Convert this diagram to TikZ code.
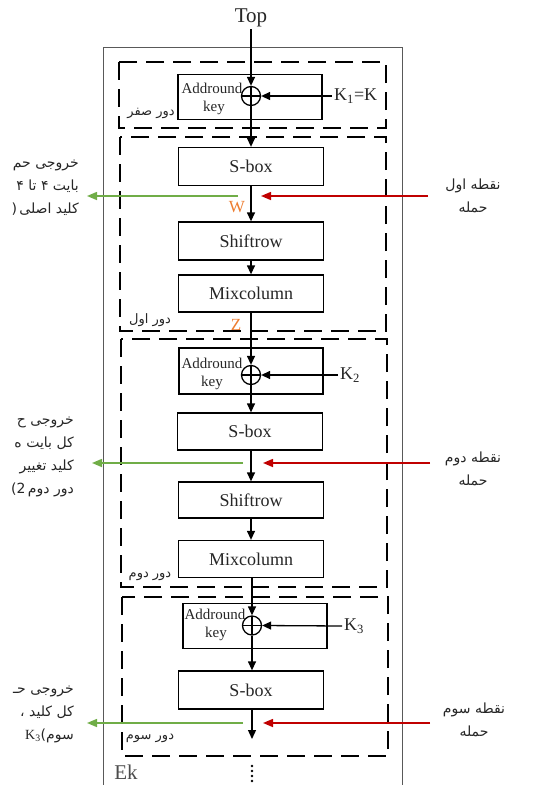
\documentclass[tikz,border=0pt]{standalone}
\usepackage{fontspec}
\setmainfont{Liberation Serif}
\newfontfamily\fa[Script=Arabic]{DejaVu Sans}
\TeXXeTstate=1
\usetikzlibrary{arrows.meta}
\definecolor{agreen}{HTML}{70AD47}
\definecolor{ared}{HTML}{C00000}
\definecolor{aorange}{HTML}{ED7D31}
\definecolor{txt}{HTML}{262626}
\newcommand{\fat}[1]{{\fa\beginR #1\endR}}
\begin{document}
\begin{tikzpicture}[x=1pt,y=-1pt,
  box/.style={draw=black, line width=1.3pt, minimum width=145pt, minimum height=38pt, inner sep=0pt, text=txt, font=\fontsize{18}{20}\selectfont},
  akbox/.style={draw=black, line width=1.3pt, minimum width=144pt, minimum height=45pt, inner sep=0pt},
  aktext/.style={text=txt, inner sep=0pt, font=\fontsize{15}{17}\selectfont},
  xorc/.style={circle, draw=black, line width=1.3pt, minimum size=19pt, inner sep=0pt,
     path picture={\draw[line width=1.3pt] (path picture bounding box.north) -- (path picture bounding box.south)
                   (path picture bounding box.west) -- (path picture bounding box.east);}},
  arr/.style={-{Triangle[length=9pt,width=8pt]}, line width=1.3pt},
  garr/.style={-{Triangle[length=10pt,width=8pt]}, line width=1.5pt, agreen},
  rarr/.style={-{Triangle[length=10pt,width=8pt]}, line width=1.5pt, ared},
  rbox/.style={dash pattern=on 18pt off 9pt, line width=1.6pt},
  klab/.style={text=txt, inner sep=2pt, font=\fontsize{18}{20}\selectfont},
  falab/.style={text=txt, inner sep=0pt, font=\fa\fontsize{13}{15}\selectfont},
  attlab/.style={text=txt, inner sep=0pt, align=center, font=\fa\fontsize{14}{23}\selectfont},
  outlab/.style={text=txt, inner sep=0pt, align=right, anchor=north east, font=\fa\fontsize{14}{23}\selectfont},
  orl/.style={text=aorange, inner sep=0pt, font=\fontsize{17}{19}\selectfont}
]
\useasboundingbox (0,0) rectangle (537,785);

% outer frame
\draw[gray!70!black, line width=1pt] (103,785) -- (103,47) -- (402,47) -- (402,785);

% round frames
\draw[rbox] (119,62) rectangle (386,128);
\draw[rbox] (120,137) rectangle (386,331);
\draw[rbox] (121,339) rectangle (387,587);
\draw[rbox] (122,597) rectangle (388,756);

\node[falab] (r0) at (151,113) {\fat{دور صفر}};
\node[falab] (r1) at (150,320) {\fat{دور اول}};
\node[falab] (r2) at (150,576) {\fat{دور دوم}};
\node[falab] (r3) at (150,738) {\fat{دور سوم}};

% top
\node[text=txt, inner sep=2pt, font=\fontsize{21}{23}\selectfont] (top) at (251,18) {Top};

% round 0
\node[akbox] (ak0) at (250,97) {};
\node[aktext] (ak0a) at (212,88) {Addround};
\node[aktext] (ak0b) at (214,108) {key};
\node[xorc] (x0) at (251,96) {};
\node[klab, anchor=west] (k1) at (332,96) {K\textsubscript{1}=K};

% round 1
\node[box] (sb1) at (251,166.5) {S-box};
\node[box] (sr1) at (251,241) {Shiftrow};
\node[box, minimum height=37pt] (mc1) at (251,293.5) {Mixcolumn};
\node[orl] (w) at (237,207) {W};
\node[orl] (z) at (236,325) {Z};

% round 2
\node[akbox, minimum height=46pt] (ak2) at (251,371) {};
\node[aktext] (ak2a) at (212,363) {Addround};
\node[aktext] (ak2b) at (212,383) {key};
\node[xorc] (x2) at (251,375) {};
\node[klab, anchor=west] (k2) at (338,375) {K\textsubscript{2}};
\node[box, minimum height=37pt] (sb2) at (250,431.5) {S-box};
\node[box, minimum height=36pt] (sr2) at (251,500) {Shiftrow};
\node[box, minimum height=37pt] (mc2) at (251,559) {Mixcolumn};

% round 3
\node[akbox] (ak3) at (255,626) {};
\node[aktext] (ak3a) at (215,614) {Addround};
\node[aktext] (ak3b) at (216,634) {key};
\node[xorc] (x3) at (252,625.5) {};
\node[klab, anchor=west] (k3) at (342,626) {K\textsubscript{3}};
\node[box] (sb3) at (251,690) {S-box};
\coordinate (e3) at (252,739);

% main flow
\draw[arr] (top) -- (x0.north);
\draw[arr] (x0.south) -- (sb1.north -| x0.south);
\draw[arr] (sb1.south) -- (sr1.north);
\draw[arr] (sr1.south) -- (mc1.north);
\draw[arr] (mc1.south) -- (x2.north);
\draw[arr] (x2.south) -- (sb2.north -| x2.south);
\draw[arr] (sb2.south -| sr2.north) -- (sr2.north);
\draw[arr] (sr2.south) -- (mc2.north);
\draw[arr] (mc2.south -| x3.north) -- (x3.north);
\draw[arr] (x3.south) -- (sb3.north -| x3.south);
\draw[arr] (sb3.south -| e3) -- (e3);

% key inputs
\draw[arr] (k1.west) -- (x0.east);
\draw[arr] (k2.west) -- (x2.east);
\draw[arr] (k3.west) -- (x3.east);

% attack points and outputs
\coordinate (g1s) at (238,196); \coordinate (g1e) at (87,196);
\coordinate (r1s) at (428,196); \coordinate (r1e) at (261,196);
\coordinate (g2s) at (243,463); \coordinate (g2e) at (92,463);
\coordinate (r2s) at (430,463); \coordinate (r2e) at (263,463);
\coordinate (g3s) at (243,723); \coordinate (g3e) at (87,723);
\coordinate (r3s) at (430,723); \coordinate (r3e) at (263,723);
\draw[garr] (g1s) -- (g1e);
\draw[rarr] (r1s) -- (r1e);
\draw[garr] (g2s) -- (g2e);
\draw[rarr] (r2s) -- (r2e);
\draw[garr] (g3s) -- (g3e);
\draw[rarr] (r3s) -- (r3e);

\node[attlab] (a1) at (473,196) {\fat{نقطه اول}\\\fat{حمله}};
\node[attlab] (a2) at (473,469) {\fat{نقطه دوم}\\\fat{حمله}};
\node[attlab] (a3) at (474,720) {\fat{نقطه سوم}\\\fat{حمله}};

\node[outlab] (o1) at (79,160) {\fat{خروجی حم}\\\fat{بایت ۴ تا ۴}\\(\,\fat{کلید اصلی}};
\node[outlab] (o2) at (74,417) {\fat{خروجی ح}\\\fat{کل بایت ه}\\\fat{کلید تغییر}\\2)\,\fat{دور دوم}};
\node[outlab] (o3) at (74,686) {\fat{خروجی حـ}\\\fat{کل کلید ،}\\{\fontspec{Liberation Serif}K\textsubscript{3}})\fat{سوم}};

% Ek and continuation dots
\node[text=gray!60!black, inner sep=0pt, font=\fontsize{21}{23}\selectfont] (ek) at (126,772) {Ek};
\foreach \yy in {766,771,776,781} \fill (252,\yy) circle (1.4pt);
\end{tikzpicture}
\end{document}
